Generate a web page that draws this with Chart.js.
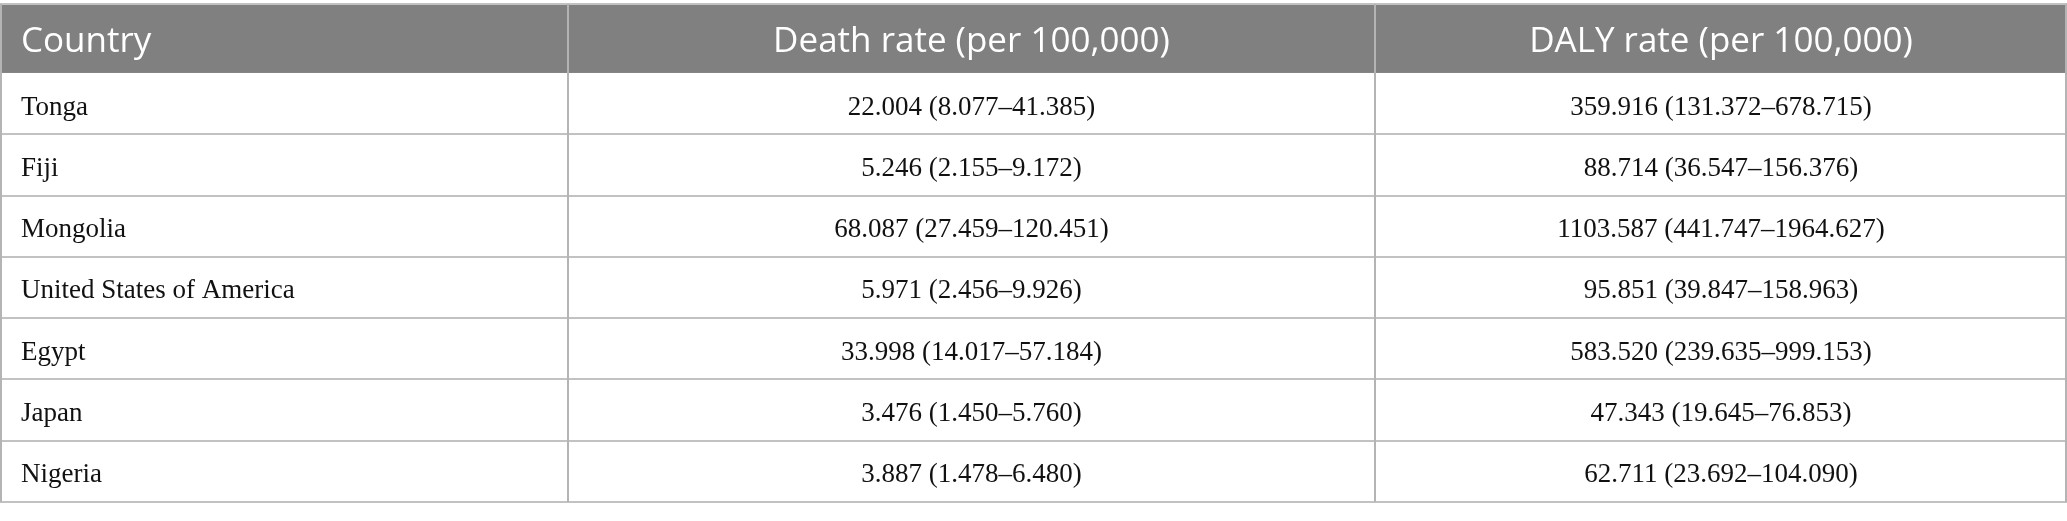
<!DOCTYPE html>
<html>
<head>
<meta charset="utf-8">
<script src="https://cdn.jsdelivr.net/npm/chart.js@4.4.0/dist/chart.umd.min.js"></script>
<style>
  html, body { margin: 0; padding: 0; background: #ffffff; }
  #wrap { width: 2067px; height: 521px; }
</style>
</head>
<body>
<div id="wrap"><canvas id="tableChart"></canvas></div>
<script>
// table content
const Headers = ['Country', 'Death rate (per 100,000)', 'DALY rate (per 100,000)'];
const Countries = ['Tonga', 'Fiji', 'Mongolia', 'United States of America', 'Egypt', 'Japan', 'Nigeria'];
const DeathRate = [22.004, 5.246, 68.087, 5.971, 33.998, 3.476, 3.887];
const DeathLow  = [8.077, 2.155, 27.459, 2.456, 14.017, 1.450, 1.478];
const DeathHigh = [41.385, 9.172, 120.451, 9.926, 57.184, 5.760, 6.480];
const DalyRate  = [359.916, 88.714, 1103.587, 95.851, 583.520, 47.343, 62.711];
const DalyLow   = [131.372, 36.547, 441.747, 39.847, 239.635, 19.645, 23.692];
const DalyHigh  = [678.715, 156.376, 1964.627, 158.963, 999.153, 76.853, 104.090];

// layout (fractions of width, header height in row units)
const ColEdges = [0, 0.2748, 0.6652, 1];
const HeaderRows = 1.125;

function fmt(v, lo, hi) {
  return v.toFixed(3) + ' (' + lo.toFixed(3) + '\u2013' + hi.toFixed(3) + ')';
}

function CellText(col, row) {
  if (col === 0) return Countries[row];
  if (col === 1) return fmt(DeathRate[row], DeathLow[row], DeathHigh[row]);
  return fmt(DalyRate[row], DalyLow[row], DalyHigh[row]);
}

// one scatter point per cell, label drawn by the plugin below
function CellPoints(col) {
  return Countries.map(function (c, i) {
    var x = col === 0 ? ColEdges[0] : (ColEdges[col] + ColEdges[col + 1]) / 2;
    return { x: x, y: i + 0.5, text: CellText(col, i) };
  });
}

const tablePlugin = {
  id: 'tablePlugin',
  beforeDatasetsDraw: function (chart) {
    const ctx = chart.ctx;
    const xs = chart.scales.x, ys = chart.scales.y;
    const top = ys.getPixelForValue(-HeaderRows);
    const hBottom = ys.getPixelForValue(0);
    const bottom = ys.getPixelForValue(Countries.length);
    const left = xs.getPixelForValue(0), right = xs.getPixelForValue(1);

    ctx.save();
    // header band
    ctx.fillStyle = '#808080';
    ctx.fillRect(left, top, right - left, hBottom - top);

    // grid lines
    ctx.strokeStyle = '#c2c2c2';
    ctx.lineWidth = 2;
    ctx.beginPath();
    ctx.moveTo(left, top); ctx.lineTo(right, top);
    for (var r = 1; r <= Countries.length; r++) {
      var y = Math.round(ys.getPixelForValue(r));
      ctx.moveTo(left, y); ctx.lineTo(right, y);
    }
    ctx.stroke();

    ctx.beginPath();
    ColEdges.forEach(function (e, i) {
      var x = xs.getPixelForValue(e);
      if (i === 0) x += 1;
      if (i === ColEdges.length - 1) x -= 1;
      x = Math.round(x);
      ctx.moveTo(x, top); ctx.lineTo(x, bottom);
    });
    ctx.strokeStyle = '#b4b4b4';
    ctx.stroke();

    // header text
    ctx.fillStyle = '#ffffff';
    ctx.font = '35px "Open Sans"';
    ctx.textBaseline = 'alphabetic';
    var hy = ys.getPixelForValue(-HeaderRows / 2) + 14;
    Headers.forEach(function (h, i) {
      if (i === 0) {
        ctx.textAlign = 'left';
        ctx.fillText(h, xs.getPixelForValue(0) + 21, hy);
      } else {
        ctx.textAlign = 'center';
        ctx.fillText(h, xs.getPixelForValue((ColEdges[i] + ColEdges[i + 1]) / 2), hy);
      }
    });
    ctx.restore();
  },
  afterDatasetsDraw: function (chart) {
    const ctx = chart.ctx;
    ctx.save();
    ctx.fillStyle = '#111111';
    ctx.font = '27px "Liberation Serif"';
    ctx.textBaseline = 'alphabetic';
    chart.data.datasets.forEach(function (ds, di) {
      chart.getDatasetMeta(di).data.forEach(function (pt, i) {
        var d = ds.data[i];
        if (di === 0) {
          ctx.textAlign = 'left';
          ctx.fillText(d.text, pt.x + 21, pt.y + 11);
        } else {
          ctx.textAlign = 'center';
          ctx.fillText(d.text, pt.x, pt.y + 11);
        }
      });
    });
    ctx.restore();
  }
};

function CreateTable() {
  var ctx = document.getElementById('tableChart').getContext('2d');
  var myChart = new Chart(ctx, {
    type: 'scatter',
    data: {
      datasets: Headers.map(function (h, col) {
        return { label: h, data: CellPoints(col), pointRadius: 0, pointHoverRadius: 0 };
      })
    },
    options: {
      responsive: true,
      maintainAspectRatio: false,
      animation: false,
      layout: { padding: { top: 4, bottom: 19, left: 0, right: 0 } },
      scales: {
        x: { type: 'linear', min: 0, max: 1, display: false },
        y: { type: 'linear', min: -HeaderRows, max: Countries.length, reverse: true, display: false }
      },
      plugins: {
        legend: { display: false },
        tooltip: { enabled: false }
      }
    },
    plugins: [tablePlugin]
  });
}

CreateTable()
</script>
</body>
</html>
